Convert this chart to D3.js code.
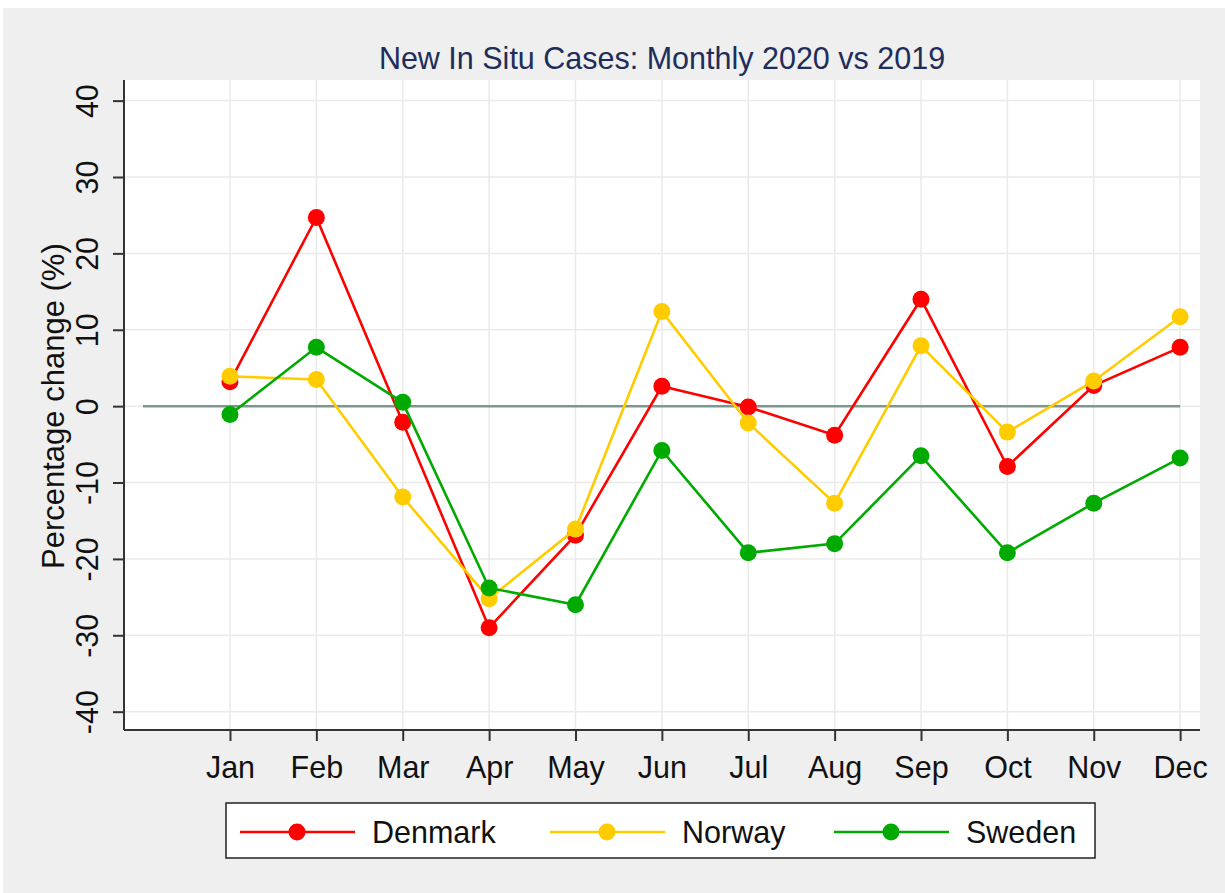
<!DOCTYPE html>
<html>
<head>
<meta charset="utf-8">
<script src="https://cdn.jsdelivr.net/npm/d3@7"></script>
<style>
  html, body { margin: 0; padding: 0; background: #ffffff; }
  svg { display: block; }
  text { font-family: "Liberation Sans", Arial, sans-serif; }
</style>
</head>
<body>
<script>
const months = ["Jan","Feb","Mar","Apr","May","Jun","Jul","Aug","Sep","Oct","Nov","Dec"];
const seriesNames = ["Denmark","Norway","Sweden"];
const denmark = [3.2, 24.7, -2.1, -29.0, -16.9, 2.6, -0.1, -3.8, 14.0, -7.9, 2.7, 7.7];
const norway  = [3.9, 3.5, -11.9, -25.2, -16.1, 12.4, -2.2, -12.7, 7.9, -3.4, 3.3, 11.7];
const sweden  = [-1.1, 7.7, 0.5, -23.8, -26.0, -5.8, -19.2, -18.0, -6.5, -19.2, -12.7, -6.8];
const yTicks = [40, 30, 20, 10, 0, -10, -20, -30, -40];
const title = "New In Situ Cases: Monthly 2020 vs 2019";
const yTitle = "Percentage change (%)";

const colors = {Denmark: "#ff0000", Norway: "#ffcc00", Sweden: "#00aa00"};
const series = [
  {name: "Denmark", values: denmark},
  {name: "Norway", values: norway},
  {name: "Sweden", values: sweden}
];

const W = 1225, H = 893;
const FS = 30.5;
const svg = d3.select("body").append("svg").attr("width", W).attr("height", H);

svg.append("rect").attr("x", 0).attr("y", 0).attr("width", W).attr("height", H).attr("fill", "#ffffff");
svg.append("rect").attr("x", 3).attr("y", 8).attr("width", W - 3).attr("height", H - 8).attr("fill", "#efefef");

const plot = {left: 124, right: 1200, top: 80, bottom: 730};
svg.append("rect").attr("x", plot.left).attr("y", plot.top)
  .attr("width", plot.right - plot.left).attr("height", plot.bottom - plot.top).attr("fill", "#ffffff");

const x = d3.scaleLinear().domain([-0.227, 12.23]).range([plot.left, plot.right]);
const y = d3.scaleLinear().domain([-42.4, 42.7]).range([plot.bottom, plot.top]);

// grid
const g = svg.append("g");
g.selectAll(".hgrid").data(yTicks).enter().append("line")
  .attr("x1", plot.left).attr("x2", plot.right)
  .attr("y1", d => y(d)).attr("y2", d => y(d))
  .attr("stroke", "#eaeaea").attr("stroke-width", 1.5);
g.selectAll(".vgrid").data(months).enter().append("line")
  .attr("x1", (d, i) => x(i + 1)).attr("x2", (d, i) => x(i + 1))
  .attr("y1", plot.top).attr("y2", plot.bottom)
  .attr("stroke", "#eaeaea").attr("stroke-width", 1.5);

// zero line
svg.append("line")
  .attr("x1", 143).attr("x2", x(12))
  .attr("y1", y(0)).attr("y2", y(0))
  .attr("stroke", "#7c978d").attr("stroke-width", 2.5);

// axes
const yAxis = d3.axisLeft(y).tickValues(yTicks).tickSize(11).tickPadding(6).tickFormat(d => String(d));
const yG = svg.append("g").attr("transform", `translate(${plot.left},0)`).call(yAxis);
yG.attr("font-family", null).attr("font-size", null);
yG.select(".domain").attr("d", `M0,${plot.top}V${plot.bottom}`).attr("stroke", "#333").attr("stroke-width", 2);
yG.selectAll(".tick line").attr("stroke", "#333").attr("stroke-width", 2);
yG.selectAll(".tick text")
  .attr("font-size", FS).attr("fill", "#111")
  .attr("x", 0).attr("dy", "0")
  .attr("text-anchor", "middle")
  .attr("transform", "translate(-26,0) rotate(-90)");

const xAxis = d3.axisBottom(x).tickValues(d3.range(1, 13)).tickSize(11).tickPadding(15)
  .tickFormat(d => months[d - 1]);
const xG = svg.append("g").attr("transform", `translate(0,${plot.bottom})`).call(xAxis);
xG.attr("font-family", null).attr("font-size", null);
xG.select(".domain").attr("d", `M${plot.left},0H${plot.right}`).attr("stroke", "#333").attr("stroke-width", 2);
xG.selectAll(".tick line").attr("stroke", "#333").attr("stroke-width", 2);
xG.selectAll(".tick text").attr("font-size", FS).attr("fill", "#111");

// titles
svg.append("text").attr("x", 662).attr("y", 69).attr("text-anchor", "middle")
  .attr("font-size", FS).attr("fill", "#1e2d5a").text(title);
svg.append("text").attr("transform", `translate(64,${y(0)}) rotate(-90)`).attr("text-anchor", "middle")
  .attr("font-size", 31).attr("fill", "#111").text(yTitle);

// series
const line = d3.line().x((d, i) => x(i + 1)).y(d => y(d));
series.forEach(s => {
  svg.append("path").datum(s.values).attr("d", line)
    .attr("fill", "none").attr("stroke", colors[s.name]).attr("stroke-width", 2.6);
  svg.append("g").selectAll("circle").data(s.values).enter().append("circle")
    .attr("cx", (d, i) => x(i + 1)).attr("cy", d => y(d)).attr("r", 8.5)
    .attr("fill", colors[s.name]);
});

// legend
const leg = svg.append("g");
leg.append("rect").attr("x", 226).attr("y", 803).attr("width", 869).attr("height", 55)
  .attr("fill", "#ffffff").attr("stroke", "#222").attr("stroke-width", 1.5);
const legX = [240, 550, 834];
seriesNames.forEach((n, i) => {
  const lx = legX[i], ly = 832;
  leg.append("line").attr("x1", lx).attr("x2", lx + 115).attr("y1", ly).attr("y2", ly)
    .attr("stroke", colors[n]).attr("stroke-width", 2.6);
  leg.append("circle").attr("cx", lx + 57).attr("cy", ly).attr("r", 8.5).attr("fill", colors[n]);
  leg.append("text").attr("x", lx + 132).attr("y", ly + 11).attr("font-size", FS).attr("fill", "#111").text(n);
});
</script>
</body>
</html>
